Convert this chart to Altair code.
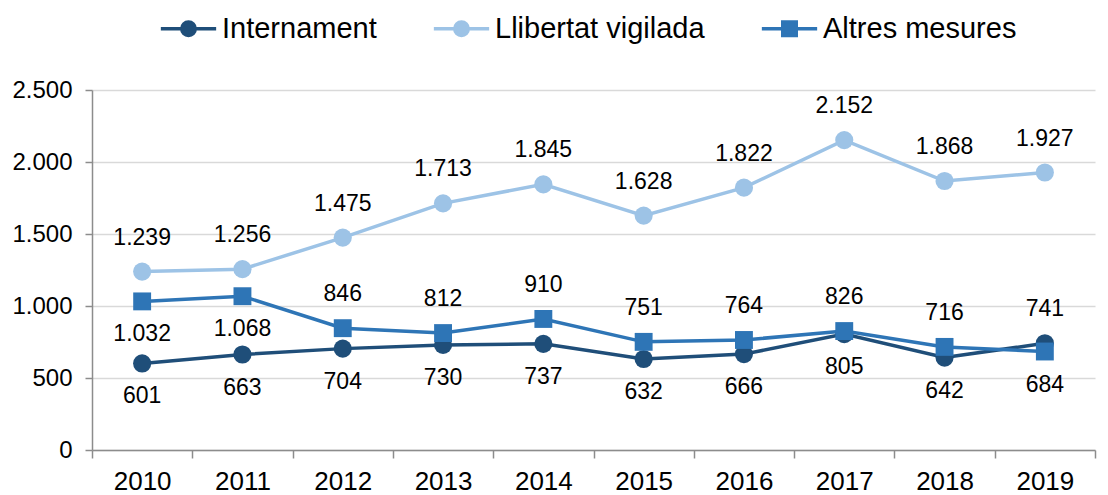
import altair as alt
import pandas as pd

# ---- data ----
years = ["2010", "2011", "2012", "2013", "2014", "2015", "2016", "2017", "2018", "2019"]
internament = [601, 663, 704, 730, 737, 632, 666, 805, 642, 741]
llibertat = [1239, 1256, 1475, 1713, 1845, 1628, 1822, 2152, 1868, 1927]
altres = [1032, 1068, 846, 812, 910, 751, 764, 826, 716, 684]
series = ["Internament", "Llibertat vigilada", "Altres mesures"]
y_ticks = [0, 500, 1000, 1500, 2000, 2500]

# ---- style ----
colors = ["#1F4E79", "#9DC3E6", "#2E75B6"]
label_below = {("Internament", y) for y in years if y != "2019"} | {
    ("Altres mesures", "2010"), ("Altres mesures", "2011"), ("Altres mesures", "2019")}
FONT = "Liberation Sans"

rows = []
for name, vals in zip(series, [internament, llibertat, altres]):
    for yr, v in zip(years, vals):
        rows.append({"year": yr, "serie": name, "value": v,
                     "pos": "below" if (name, yr) in label_below else "above"})
df = pd.DataFrame(rows)

x_enc = alt.X("year:O", title=None,
              scale=alt.Scale(type="band", domain=years, paddingInner=0, paddingOuter=0),
              axis=alt.Axis(labelAngle=0, tickBand="extent", labelFontSize=26, labelFont=FONT,
                            labelColor="#000000", domainColor="#8c8c8c", domainWidth=1.5,
                            tickColor="#8c8c8c", tickWidth=1.5, tickSize=8, labelPadding=10,
                            grid=False))
y_enc = alt.Y("value:Q", title=None,
              scale=alt.Scale(domain=[0, 2500], nice=False),
              axis=alt.Axis(values=y_ticks, labelFontSize=24, labelFont=FONT, labelColor="#000000",
                            labelExpr="replace(format(datum.value, ','), ',', '.')",
                            domainColor="#8c8c8c", domainWidth=1.5, tickColor="#8c8c8c",
                            tickWidth=1.5, tickSize=7, labelPadding=13,
                            grid=True, gridColor="#d9d9d9", gridWidth=1.5))

circ = "M-4.1,0H4.1M-1,0A1,1 0 1,0 1,0A1,1 0 1,0 -1,0Z"
sq = "M-4.1,0H4.1M-1,-1H1V1H-1Z"
leg = alt.Legend(title=None, orient="none", direction="horizontal", legendX=82, legendY=-76,
                 labelFontSize=29, labelFont=FONT, labelColor="#000000", labelLimit=400,
                 symbolSize=182, symbolStrokeWidth=3.5, labelOffset=19, columnPadding=49,
                 padding=0, symbolOpacity=1)

col_scale = alt.Scale(domain=series, range=colors)
base = alt.Chart(df).encode(x=x_enc, y=y_enc,
                            color=alt.Color("serie:N", scale=col_scale, legend=leg))

layers = []
for name in ["Llibertat vigilada", "Internament", "Altres mesures"]:
    b = base.transform_filter(alt.datum.serie == name)
    layers.append(b.mark_line(strokeWidth=3.5))
    if name == "Altres mesures":
        layers.append(b.mark_square(size=320, opacity=1))
    else:
        layers.append(b.mark_circle(size=330, opacity=1))

lab = alt.Chart(df).encode(x=x_enc, y=y_enc).transform_calculate(
    label="replace(format(datum.value, ','), ',', '.')")
layers.append(lab.transform_filter(alt.datum.pos == "above").mark_text(
    fontSize=23, font=FONT, baseline="middle", dy=-34, color="#000000").encode(text="label:N"))
layers.append(lab.transform_filter(alt.datum.pos == "below").mark_text(
    fontSize=23, font=FONT, baseline="middle", dy=33, color="#000000").encode(text="label:N"))

# legend-only layer (invisible marks; its legend symbols show line + marker)
legend_layer = alt.Chart(df).mark_point(filled=True, opacity=0).encode(
    x=x_enc, y=y_enc,
    fill=alt.Fill("serie:N", scale=alt.Scale(domain=series, range=colors), legend=leg),
    stroke=alt.Stroke("serie:N", scale=alt.Scale(domain=series, range=colors), legend=leg),
    shape=alt.Shape("serie:N", scale=alt.Scale(domain=series, range=[circ, circ, sq]), legend=leg),
)
layers.append(legend_layer)

chart = alt.layer(*layers).properties(
    width=1003, height=360,
    autosize=alt.AutoSizeParams(type="none"),
    padding={"left": 84, "top": 82, "right": 5, "bottom": 45},
    background="white",
).configure_view(stroke=None)

chart.save("out.html", embed_options={"renderer": "svg", "actions": False})
